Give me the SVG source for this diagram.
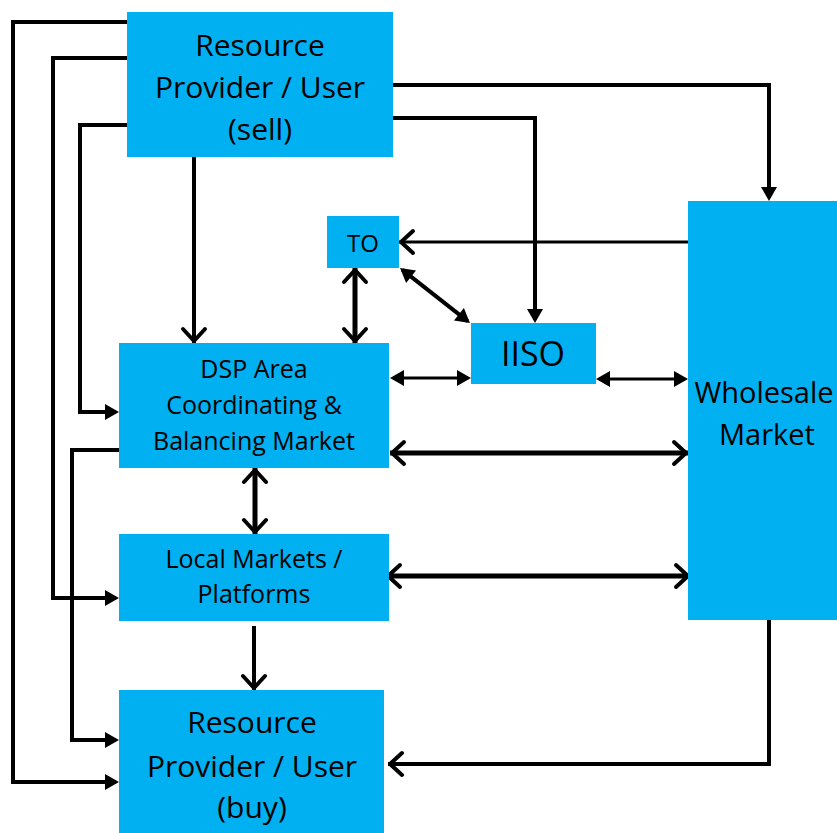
<svg xmlns="http://www.w3.org/2000/svg" width="837" height="833" viewBox="0 0 837 833">
<style>
.box{fill:#00B0F0;}
.t{font-family:"Open Sans","Liberation Sans",sans-serif;fill:#000;text-anchor:middle;}
.c{fill:none;stroke:#000;stroke-width:4;stroke-linejoin:miter;}
.thin{stroke-width:3;}
.thick{stroke-width:5;}
.op{marker-end:url(#open);}
.op2{marker-start:url(#open);marker-end:url(#open);}
.so{marker-end:url(#solid);}
.so2{marker-start:url(#solid);marker-end:url(#solid);}
</style>
<defs>
<marker id="open" markerUnits="userSpaceOnUse" viewBox="-20 -16 24 32" refX="0" refY="0" markerWidth="24" markerHeight="32" orient="auto-start-reverse" overflow="visible">
<path d="M-14,-11 L-2,0 L-14,11" fill="none" stroke="#000" stroke-width="4" stroke-linecap="round" stroke-linejoin="round"/>
</marker>
<marker id="solid" markerUnits="userSpaceOnUse" viewBox="-20 -12 24 24" refX="-3" refY="0" markerWidth="24" markerHeight="24" orient="auto-start-reverse" overflow="visible">
<path d="M-14,-8 L0,0 L-14,8 Z" fill="#000"/>
</marker>
</defs>
<g id="connectors">
<path class="c so" d="M127,22 H13 V782 H116"/>
<path class="c so" d="M127,58 H53 V598 H116"/>
<path class="c so" d="M127,125 H80 V412 H116"/>
<path class="c so" d="M119,450 H72 V740 H116"/>
<path class="c op" d="M194,157 V343"/>
<path class="c so" d="M393,85 H769 V198"/>
<path class="c so" d="M390,118 H535 V320"/>
<path class="c thin op" d="M688,242 H399"/>
<path class="c thick op2" d="M355,268 V343"/>
<path class="c so2" d="M402.4,269.9 L467.6,321.1"/>
<path class="c thin so2" d="M393,378 H468"/>
<path class="c thin so2" d="M599,379 H685"/>
<path class="c thick op2" d="M390,453 H688"/>
<path class="c thick op2" d="M386,576 H690"/>
<path class="c thick op2" d="M255,468 V534"/>
<path class="c op" d="M254,626 V690"/>
<path class="c op" d="M769,620 V764 H388"/>
</g>
<g id="sell">
<rect class="box" x="127" y="12" width="266" height="145"/>
<text class="t" x="260" y="56" font-size="30">Resource</text>
<text class="t" x="260" y="98" font-size="30">Provider / User</text>
<text class="t" x="260" y="140" font-size="30">(sell)</text>
</g>
<g id="to">
<rect class="box" x="327" y="216" width="72" height="52"/>
<text class="t" x="363" y="252" font-size="24">TO</text>
</g>
<g id="iiso">
<rect class="box" x="471" y="323" width="125" height="61"/>
<text class="t" x="533" y="366" font-size="34">IISO</text>
</g>
<g id="dsp">
<rect class="box" x="119" y="343" width="270" height="125"/>
<text class="t" x="254" y="378" font-size="25">DSP Area</text>
<text class="t" x="254" y="414" font-size="25">Coordinating &amp;</text>
<text class="t" x="254" y="450" font-size="25">Balancing Market</text>
</g>
<g id="local">
<rect class="box" x="119" y="534" width="270" height="87"/>
<text class="t" x="254" y="568" font-size="25">Local Markets /</text>
<text class="t" x="254" y="603" font-size="25">Platforms</text>
</g>
<g id="wholesale">
<rect class="box" x="688" y="201" width="160" height="419"/>
<text class="t" x="764" y="403" font-size="29">Wholesale</text>
<text class="t" x="767" y="445" font-size="29">Market</text>
</g>
<g id="buy">
<rect class="box" x="119" y="690" width="265" height="150"/>
<text class="t" x="252" y="733" font-size="30">Resource</text>
<text class="t" x="252" y="777" font-size="30">Provider / User</text>
<text class="t" x="252" y="818" font-size="30">(buy)</text>
</g>
</svg>
